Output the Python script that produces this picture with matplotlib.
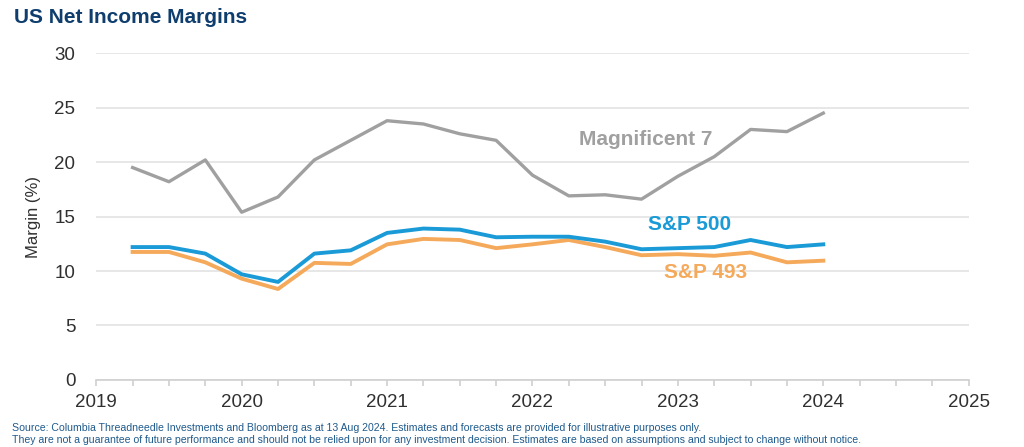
import matplotlib
matplotlib.use("Agg")
import matplotlib.pyplot as plt
import numpy as np

plt.rcParams['font.family'] = ['Liberation Sans', 'DejaVu Sans']

quarters = [2019.25, 2019.5, 2019.75, 2020.0, 2020.25, 2020.5, 2020.75, 2021.0,
            2021.25, 2021.5, 2021.75, 2022.0, 2022.25, 2022.5, 2022.75, 2023.0,
            2023.25, 2023.5, 2023.75, 2024.0]
mag7 = [19.5, 18.2, 20.2, 15.4, 16.8, 20.2, 22.0, 23.8, 23.5, 22.6, 22.0, 18.8,
        16.9, 17.0, 16.6, 18.7, 20.5, 23.0, 22.8, 24.5]
sp500 = [12.2, 12.2, 11.6, 9.7, 9.0, 11.6, 11.9, 13.5, 13.9, 13.8, 13.1, 13.15,
         13.15, 12.7, 12.0, 12.1, 12.2, 12.85, 12.2, 12.45]
sp493 = [11.75, 11.75, 10.8, 9.3, 8.35, 10.75, 10.65, 12.45, 12.95, 12.85, 12.1, 12.45,
         12.85, 12.2, 11.45, 11.55, 11.4, 11.7, 10.8, 10.95]
year_ticks = [2019, 2020, 2021, 2022, 2023, 2024, 2025]
y_ticks = [0, 5, 10, 15, 20, 25, 30]

c_mag = '#a0a0a0'
c_500 = '#1a9ad6'
c_493 = '#f5a95b'

fig = plt.figure(figsize=(10.24, 4.47), dpi=100)
ax = fig.add_axes([0.094, 0.150, 0.852, 0.731])

ax.plot(quarters, mag7, color=c_mag, lw=2.4, solid_joinstyle='round')
ax.plot(quarters, sp493, color=c_493, lw=2.8, solid_joinstyle='round')
ax.plot(quarters, sp500, color=c_500, lw=2.8, solid_joinstyle='round')

ax.set_xlim(2019, 2025)
ax.set_ylim(0, 30)
ax.set_yticks(y_ticks)
ax.set_xticks(year_ticks)
ax.set_xticks(np.arange(2019, 2025.01, 0.25), minor=True)
ax.set_xticklabels([str(y) for y in year_ticks])
ax.yaxis.grid(True, color='#e3e3e3', lw=1.2)
ax.set_axisbelow(True)
for s in ['top', 'right', 'left']:
    ax.spines[s].set_visible(False)
ax.spines['bottom'].set_color('#d0d0d0')
ax.spines['bottom'].set_linewidth(1.2)
ax.tick_params(axis='y', length=0, pad=15, labelsize=13.5, labelcolor='#303030')
ax.tick_params(axis='x', which='both', length=4, color='#d0d0d0', width=1.2,
               direction='out', pad=6, labelsize=13.5, labelcolor='#303030')
ax.set_ylabel('Margin (%)', fontsize=12, color='#303030', labelpad=10)

ax.text(2022.78, 22.1, 'Magnificent 7', color=c_mag, fontsize=15, fontweight='bold',
        ha='center', va='center')
ax.text(2023.08, 14.3, 'S&P 500', color=c_500, fontsize=15, fontweight='bold',
        ha='center', va='center')
ax.text(2023.19, 9.9, 'S&P 493', color=c_493, fontsize=15, fontweight='bold',
        ha='center', va='center')

fig.text(0.014, 0.960, 'US Net Income Margins', color='#0e3d6e', fontsize=15,
         fontweight='bold', ha='left', va='center')
fig.text(0.012, 0.043,
         'Source: Columbia Threadneedle Investments and Bloomberg as at 13 Aug 2024. '
         'Estimates and forecasts are provided for illustrative purposes only.',
         color='#1f5a8c', fontsize=7.6, ha='left', va='center')
fig.text(0.012, 0.015,
         'They are not a guarantee of future performance and should not be relied upon for '
         'any investment decision. Estimates are based on assumptions and subject to change without notice.',
         color='#1f5a8c', fontsize=7.6, ha='left', va='center')

fig.savefig('out.png', dpi=100)
